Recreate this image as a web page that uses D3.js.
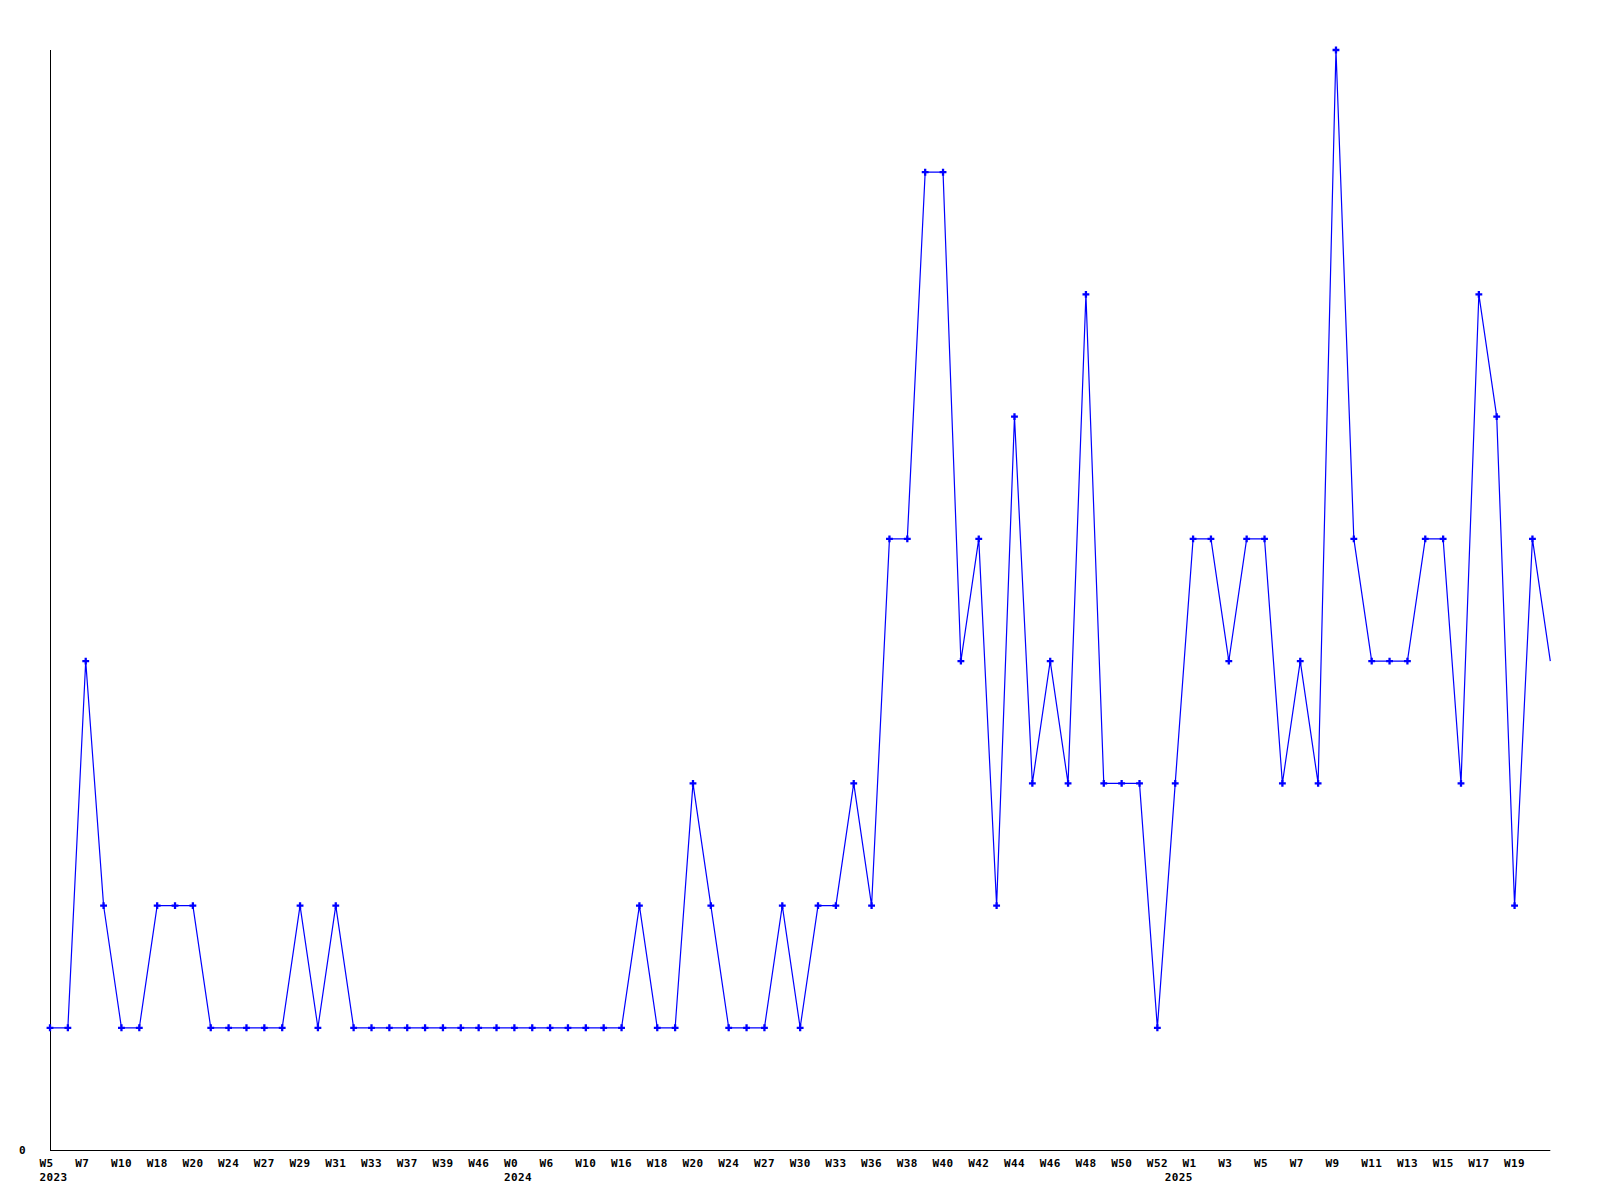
<!DOCTYPE html>
<html>
<head>
<meta charset="utf-8">
<script src="https://cdn.jsdelivr.net/npm/d3@7"></script>
<style>
  html, body { margin: 0; padding: 0; background: #fff; }
  svg { display: block; }
  text { font-family: "DejaVu Sans Mono", monospace; font-weight: bold; font-size: 11px; letter-spacing: 0.4px; fill: #000; }
</style>
</head>
<body>
<svg id="chart" width="1600" height="1200"></svg>
<script>
// Weekly values (one per point, in order)
const values = [
  1, 1, 4, 2, 1, 1, 2, 2, 2, 1,
  1, 1, 1, 1, 2, 1, 2, 1, 1, 1,
  1, 1, 1, 1, 1, 1, 1, 1, 1, 1,
  1, 1, 1, 2, 1, 1, 3, 2, 1, 1,
  1, 2, 1, 2, 2, 3, 2, 5, 5, 8,
  8, 4, 5, 2, 6, 3, 4, 3, 7, 3,
  3, 3, 1, 3, 5, 5, 4, 5, 5, 3,
  4, 3, 9, 5, 4, 4, 4, 5, 5, 3,
  7, 6, 2, 5, 4
];

// Week tick labels, shown on every other point
const weekLabels = [
  "W5", "W7", "W10", "W18", "W20", "W24", "W27", "W29", "W31", "W33",
  "W37", "W39", "W46", "W0", "W6", "W10", "W16", "W18", "W20", "W24",
  "W27", "W30", "W33", "W36", "W38", "W40", "W42", "W44", "W46", "W48",
  "W50", "W52", "W1", "W3", "W5", "W7", "W9", "W11", "W13", "W15",
  "W17", "W19"
];

// Year labels and the point index where each year starts
const yearLabels = ["2023", "2024", "2025"];
const yearIndex = [0, 26, 63];

const yTickLabels = ["0"];

const svg = d3.select("#chart");

const x = d3.scaleLinear().domain([0, values.length - 1]).range([50, 1550.3]);
const y = d3.scaleLinear().domain([0, 9]).range([1150, 50]);

// Axes lines
svg.append("line")
  .attr("x1", 50.5).attr("x2", 50.5)
  .attr("y1", y(9)).attr("y2", y(0) + 0.5)
  .attr("stroke", "#000").attr("stroke-width", 1);
svg.append("line")
  .attr("x1", 50).attr("x2", x(values.length - 1))
  .attr("y1", y(0) + 0.5).attr("y2", y(0) + 0.5)
  .attr("stroke", "#000").attr("stroke-width", 1);

// Y label
svg.append("text")
  .attr("x", 19).attr("y", y(0) + 4)
  .text(yTickLabels[0]);

// Week labels
svg.selectAll("text.week")
  .data(weekLabels)
  .enter().append("text")
  .attr("class", "week")
  .attr("x", (d, i) => x(i * 2) - 10.5)
  .attr("y", 1167)
  .text(d => d);

// Year labels
svg.selectAll("text.year")
  .data(yearLabels)
  .enter().append("text")
  .attr("class", "year")
  .attr("x", (d, i) => x(yearIndex[i]) - 10.5)
  .attr("y", 1181)
  .text(d => d);

// Line
const line = d3.line()
  .x((d, i) => x(i))
  .y(d => y(d));

svg.append("path")
  .datum(values)
  .attr("fill", "none")
  .attr("stroke", "#0000ff")
  .attr("stroke-width", 1.2)
  .attr("d", line);

// Markers (last point has none)
const cross = d3.symbol().type(d3.symbolCross).size(26);
svg.selectAll("path.marker")
  .data(values.slice(0, values.length - 1))
  .enter().append("path")
  .attr("class", "marker")
  .attr("transform", (d, i) => `translate(${x(i)},${y(d)})`)
  .attr("d", cross)
  .attr("fill", "#0000ff");
</script>
</body>
</html>
